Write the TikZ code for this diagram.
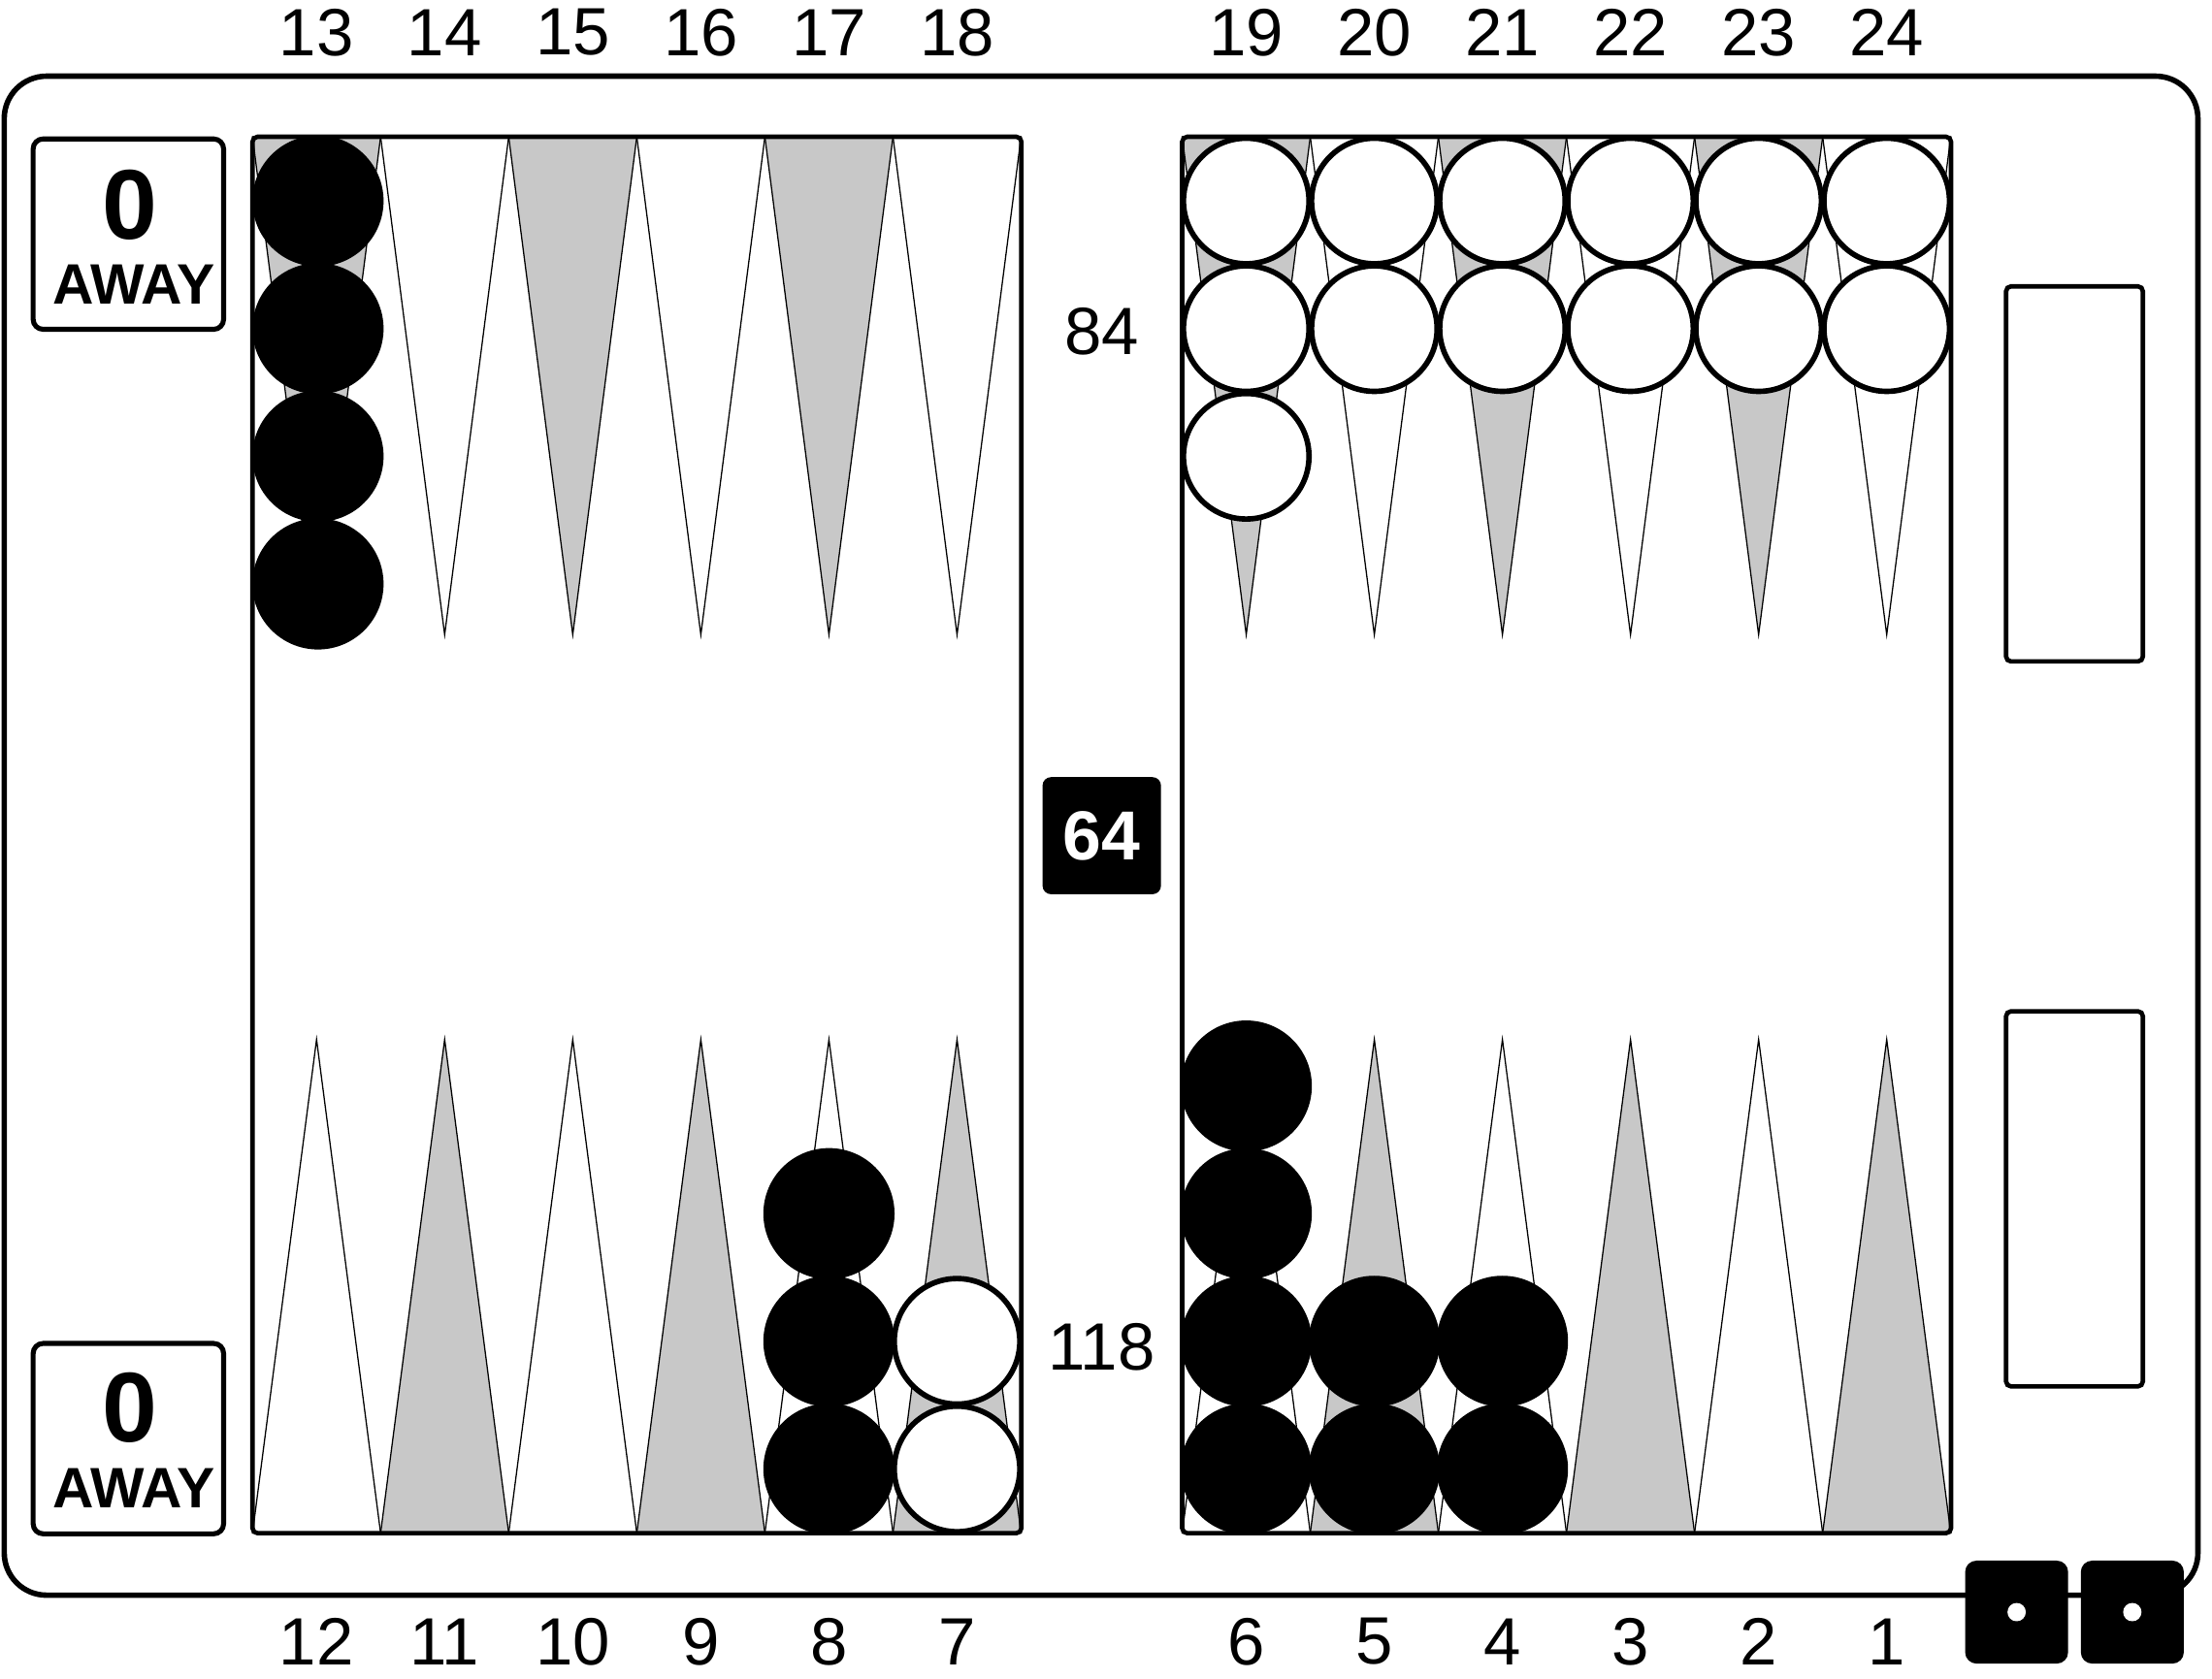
\documentclass[tikz,border=0pt]{standalone}
\usepackage{fontspec}
\setmainfont{Liberation Sans}
\usetikzlibrary{calc}
\definecolor{ptgray}{RGB}{200,200,200}
\tikzset{frame/.style = {draw, fill=white, line width=2.2pt, rounded corners=0.6cm},
         half/.style = {draw, line width=1.8pt, rounded corners=2pt},
         pt/.style = {draw, line width=0.5pt, line join=miter},
         blk/.style = {circle, fill=black, minimum size=1.86cm, inner sep=0pt},
         wht/.style = {circle, draw, fill=white, line width=2.2pt, minimum size=1.78cm, inner sep=0pt},
         score/.style = {draw, line width=2pt, rounded corners=4pt, minimum width=2.7cm, minimum height=2.7cm},
         tray/.style = {draw, line width=1.8pt, rounded corners=2pt, minimum width=1.94cm, minimum height=5.32cm},
         die/.style = {fill=black, rounded corners=0.16cm, minimum size=1.46cm, inner sep=0pt},
         lbl/.style = {font=\fontsize{27}{30}\selectfont, inner sep=0pt}}
\def\pw{90.8}

\begin{document}
\begin{tikzpicture}[x=0.02cm, y=-0.02cm]
\useasboundingbox (0,0) rectangle (1568,1190);
\path[frame] (3,54) rectangle (1558,1131);

% the two halves of the board
\fill[white] (179,97) rectangle (724,1087);
\fill[white] (838,97) rectangle (1383,1087);
\foreach \i in {0,...,5} {
  \pgfmathsetmacro\xa{179+\i*\pw}
  \pgfmathsetmacro\xb{838+\i*\pw}
  \ifodd\i \def\tc{white}\def\bc{ptgray}\else \def\tc{ptgray}\def\bc{white}\fi
  \foreach \x in {\xa,\xb} {
    \filldraw[pt, fill=\tc] (\x,97) -- ++(\pw,0) -- ++(-\pw/2,353) -- cycle;
    \filldraw[pt, fill=\bc] (\x,1087) -- ++(\pw,0) -- ++(-\pw/2,-350) -- cycle;
  }
}
\draw[half] (179,97) rectangle (724,1087);
\draw[half] (838,97) rectangle (1383,1087);

% point numbers
\foreach \n [count=\i from 0] in {13,...,18} \node[lbl] (t\n) at ({224.4+\i*\pw},23) {\n};
\foreach \n [count=\i from 0] in {19,...,24} \node[lbl] (t\n) at ({883.4+\i*\pw},23) {\n};
\foreach \n [count=\i from 0] in {12,11,...,7} \node[lbl] (t\n) at ({224.4+\i*\pw},1164) {\n};
\foreach \n [count=\i from 0] in {6,5,...,1} \node[lbl] (t\n) at ({883.4+\i*\pw},1164) {\n};

% checkers
\foreach \k in {1,...,4} \node[blk] (b13-\k) at (225.4,{142.5+(\k-1)*90.5}) {};
\foreach \p/\x/\n in {8/587.6/3, 6/883.4/4, 5/974.2/2, 4/1065/2}
  \foreach \k in {1,...,\n} \node[blk] (b\p-\k) at (\x,{1041.5-(\k-1)*90.5}) {};
\foreach \p/\x/\n in {19/883.4/3, 20/974.2/2, 21/1065/2, 22/1155.8/2, 23/1246.6/2, 24/1337.4/2}
  \foreach \k in {1,...,\n} \node[wht] (w\p-\k) at (\x,{142.5+(\k-1)*90.5}) {};
\foreach \k in {1,2} \node[wht] (w7-\k) at (678.4,{1041.5-(\k-1)*90.5}) {};

% scores, pips and cube
\node[score] (sc1) at (91,166) {};
\node[score] (sc2) at (91,1020) {};
\node[font=\fontsize{40}{40}\selectfont\bfseries, inner sep=0pt] (sc1n) at (92,145) {0};
\node[font=\fontsize{23}{24}\selectfont\bfseries, inner sep=0pt] (sc1a) at (95,202) {AWAY};
\node[font=\fontsize{40}{40}\selectfont\bfseries, inner sep=0pt] (sc2n) at (92,998) {0};
\node[font=\fontsize{23}{24}\selectfont\bfseries, inner sep=0pt] (sc2a) at (95,1055) {AWAY};
\node[lbl] (pip1) at (781,235) {84};
\node[lbl] (pip2) at (781,955) {118};
\node[fill=black, rounded corners=0.12cm, minimum width=1.68cm, minimum height=1.66cm,
      text=white, font=\fontsize{28}{30}\selectfont\bfseries] (cube) at (781,592.5) {64};

% bear-off trays
\node[tray] (tray1) at (1470.5,336) {};
\node[tray] (tray2) at (1470.5,850) {};

% dice
\node[die] (d1) at (1429.5,1143) {};
\node[die] (d2) at (1511.5,1143) {};
\fill[white] (d1) circle (0.13cm);
\fill[white] (d2) circle (0.13cm);
\end{tikzpicture}
\end{document}
